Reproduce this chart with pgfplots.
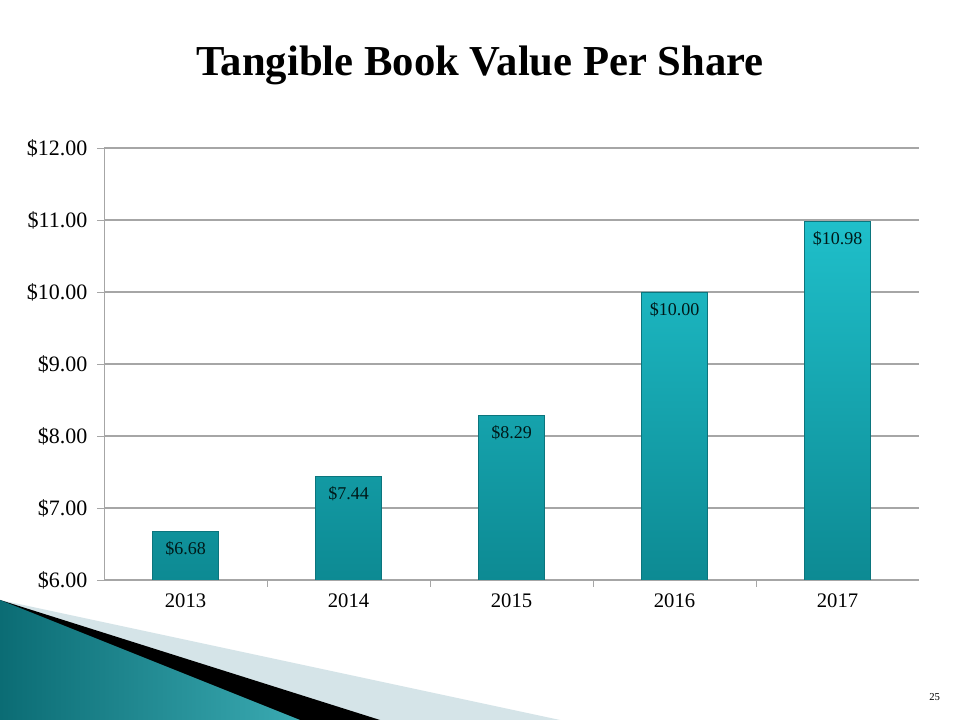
\documentclass[border=0pt]{standalone}
\usepackage{fontspec}
\setmainfont{Liberation Serif}
\usepackage{pgfplots}
\pgfplotsset{compat=1.18}
\definecolor{barTop}{HTML}{1FBFCA}
\definecolor{barBot}{HTML}{0D8A93}
\definecolor{gridgray}{HTML}{A6A6A6}
\definecolor{swoosh}{HTML}{3AAAB2}
\definecolor{swooshdark}{HTML}{0B6C74}
\definecolor{lightgrey}{HTML}{D5E4E8}

\begin{document}
\begin{tikzpicture}
% page frame, 1px = 0.75pt
\useasboundingbox (0,0) rectangle (720pt,540pt);
\fill[white] (0,0) rectangle (720pt,540pt);
% decorative swoosh
\fill[lightgrey] (0pt,90pt) -- (420pt,0pt) -- (0pt,0pt) -- cycle;
\fill[black] (0pt,90pt) -- (285pt,0pt) -- (0pt,0pt) -- cycle;
\shade[left color=swooshdark, right color=swoosh] (0pt,90pt) -- (225pt,0pt) -- (0pt,0pt) -- cycle;
\node[font=\bfseries\fontsize{32}{36}\selectfont] at (360pt,491pt) {Tangible Book Value Per Share};
\node[font=\fontsize{8}{9}\selectfont] at (701pt,17pt) {25};
\begin{axis}[
    at={(78pt,105pt)}, anchor=south west,
    scale only axis, width=611.25pt, height=324pt,
    ybar, bar width=49.5pt,
    xmin=-0.5, xmax=4.5, ymin=6, ymax=12,
    ytick={6,7,...,12},
    xtick={0,1,2,3,4},
    xticklabels={2013,2014,2015,2016,2017},
    xtick style={draw=none},
    extra x ticks={0.5,1.5,2.5,3.5},
    extra x tick labels={},
    extra x tick style={xtick style={draw=gridgray}, major tick length=5pt, tick align=outside},
    axis lines=left, axis line style={draw=gridgray, -},
    ymajorgrids, grid style={draw=gridgray, line width=0.8pt},
    ytick style={draw=gridgray}, major tick length=5pt, tick align=outside,
    yticklabel={\$\pgfmathprintnumber[fixed,fixed zerofill,precision=2]{\tick}},
    /pgf/number format/assume math mode=true,
    ticklabel style={font=\fontsize{15.5}{17}\selectfont},
    yticklabel style={xshift=-4pt, font=\fontsize{16.5}{18}\selectfont},
    xticklabel style={yshift=-2pt},
    nodes near coords={\$\pgfmathprintnumber[fixed,fixed zerofill,precision=2]{\pgfplotspointmeta}},
    nodes near coords style={anchor=north, yshift=-4pt, font=\fontsize{13.5}{15}\selectfont, text=black!80!teal},
]
\addplot[draw=barBot!85!black, line width=0.3pt, top color=barTop, bottom color=barBot] coordinates {(0,6.68) (1,7.44) (2,8.29) (3,10.00) (4,10.98)};
\end{axis}
\end{tikzpicture}
\end{document}
